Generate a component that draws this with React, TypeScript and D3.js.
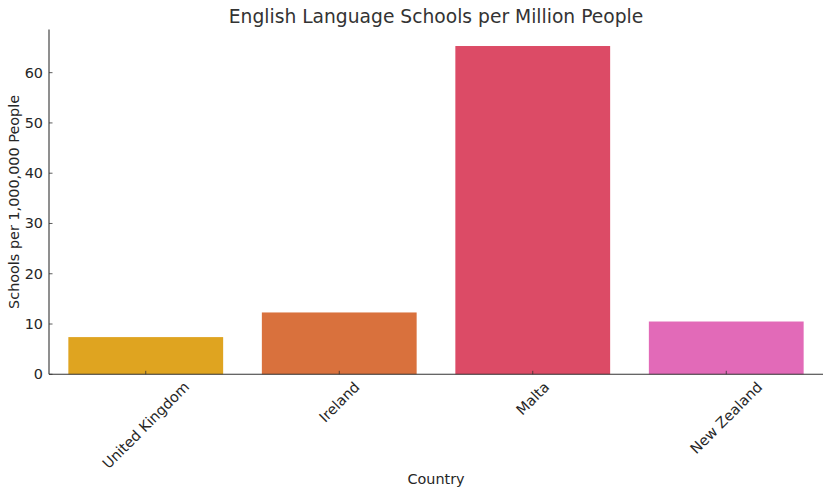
import React, { useEffect, useRef } from "react";
import * as d3 from "d3";

const countries = ["United Kingdom", "Ireland", "Malta", "New Zealand"];
const schools = [7.4, 12.3, 65.3, 10.5];
const colors = ["#dfa420", "#d9713d", "#dc4b66", "#e26ab8"];
const yTicks = [0, 10, 20, 30, 40, 50, 60];

const W = 832;
const H = 496;
const M = { left: 49, right: 9, top: 29.6, bottom: 121.7 };
const FS = 14.4;

export default function App() {
  const ref = useRef<SVGSVGElement | null>(null);

  useEffect(() => {
    const svg = d3.select(ref.current);
    svg.selectAll("*").remove();
    const font = "DejaVu Sans, sans-serif";
    const x0 = M.left, x1 = W - M.right, y0 = H - M.bottom, y1 = M.top;

    const x = d3.scaleBand<string>().domain(countries).range([x0, x1]).paddingInner(0.2).paddingOuter(0.1);
    const y = d3.scaleLinear().domain([0, d3.max(schools)! * 1.05]).range([y0, y1]);

    svg.selectAll("rect.bar")
      .data(countries)
      .enter()
      .append("rect")
      .attr("x", (d) => x(d)!)
      .attr("width", x.bandwidth())
      .attr("y", (_, i) => y(schools[i]))
      .attr("height", (_, i) => y(0) - y(schools[i]))
      .attr("fill", (_, i) => colors[i]);

    svg.append("line").attr("x1", x0).attr("x2", x0).attr("y1", y1).attr("y2", y0)
      .attr("stroke", "#333").attr("stroke-width", 1.1);
    svg.append("line").attr("x1", x0).attr("x2", x1).attr("y1", y0).attr("y2", y0)
      .attr("stroke", "#333").attr("stroke-width", 1.1);

    yTicks.forEach((t) => {
      svg.append("line").attr("x1", x0).attr("x2", x0 + 3.5).attr("y1", y(t)).attr("y2", y(t))
        .attr("stroke", "#333").attr("stroke-width", 0.8);
      svg.append("text").attr("x", x0 - 6).attr("y", y(t)).attr("text-anchor", "end")
        .attr("dominant-baseline", "central").attr("font-family", font).attr("font-size", FS)
        .attr("fill", "#262626").text(String(t));
    });

    countries.forEach((c) => {
      const cx = x(c)! + x.bandwidth() / 2;
      svg.append("line").attr("x1", cx).attr("x2", cx).attr("y1", y0).attr("y2", y0 - 3.5)
        .attr("stroke", "#333").attr("stroke-width", 0.8);
      const t = svg.append("text").attr("font-family", font).attr("font-size", FS)
        .attr("fill", "#262626").attr("text-anchor", "middle").attr("dominant-baseline", "central")
        .text(c);
      const w = (t.node() as SVGTextElement).getComputedTextLength();
      const h = FS;
      const half = (w + h) / (2 * Math.SQRT2);
      const cy = y0 + 5 + half;
      t.attr("transform", `translate(${cx},${cy}) rotate(-45)`);
    });

    svg.append("text").attr("x", (x0 + x1) / 2).attr("y", 23).attr("text-anchor", "middle")
      .attr("font-family", font).attr("font-size", 18.7).attr("fill", "#333")
      .text("English Language Schools per Million People");

    svg.append("text").attr("x", (x0 + x1) / 2).attr("y", 484).attr("text-anchor", "middle")
      .attr("font-family", font).attr("font-size", FS).attr("fill", "#262626").text("Country");
    svg.append("text").attr("transform", `translate(19,${(y0 + y1) / 2}) rotate(-90)`)
      .attr("text-anchor", "middle").attr("font-family", font).attr("font-size", FS)
      .attr("fill", "#262626").text("Schools per 1,000,000 People");
  }, []);

  return (
    <svg ref={ref} width={W} height={H} style={{ position: "absolute", left: 0, top: 0, background: "#fff" }} />
  );
}
